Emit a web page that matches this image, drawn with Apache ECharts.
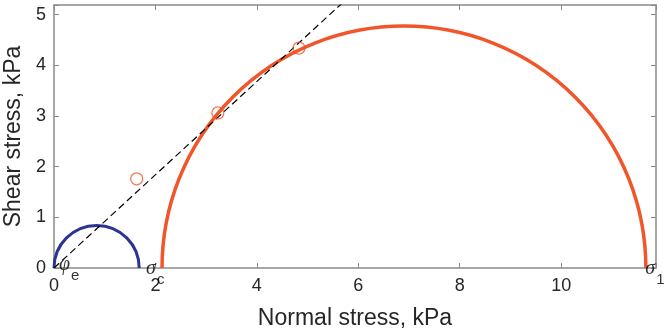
<!DOCTYPE html>
<html>
<head>
<meta charset="utf-8">
<script src="https://cdn.jsdelivr.net/npm/echarts@6/dist/echarts.min.js"></script>
<style>
html, body { margin: 0; padding: 0; background: #fff; }
#main { width: 666px; height: 330px; }
</style>
</head>
<body>
<div id="main"></div>
<script>
// axis ranges and tick labels
var xRange = [0, 11.87];
var yRange = [0, 5.19];
var xTicks = [0, 2, 4, 6, 8, 10];
var yTicks = [0, 1, 2, 3, 4, 5];

// Mohr circles: [centre, radius]
var circleSmall = [0.84, 0.84];
var circleLarge = [6.9, 4.77];

// measured points and failure envelope (through origin)
var testPoints = [[1.63, 1.76], [3.23, 3.06], [4.83, 4.34]];
var envelope = [[0, 0], [6, 5.52]];

// annotation anchors: [x, y, symbol, subscript]
var annotations = [
    [0, 0, 'φ', 'e'],
    [2.13, 0, 'σ', 'c'],
    [11.66, 0, 'σ', '1']
];
var annotationOffsets = [[5, -13], [-16, -9], [0, -9]];

var myChart = echarts.init(document.getElementById('main'));

var axisGrey = '#8a8a8a';
var textDark = '#262626';
var sans = 'Liberation Sans, Arial, sans-serif';

function makeAxis(pos, range, ticks, showLabel, name) {
    var isX = pos === 'bottom' || pos === 'top';
    var ax = {
        type: 'value',
        position: pos,
        min: range[0],
        max: range[1],
        interval: isX ? 2 : 1,
        splitLine: { show: false },
        axisLine: { show: true, onZero: false, lineStyle: { color: axisGrey, width: 1.5 } },
        axisTick: { show: true, inside: true, length: 5, lineStyle: { color: axisGrey, width: 1 } },
        axisLabel: {
            show: showLabel,
            color: textDark,
            fontSize: 18,
            fontFamily: sans,
            margin: isX ? 9 : 8,
            formatter: function (v) { return ticks.indexOf(v) >= 0 ? String(v) : ''; }
        }
    };
    if (name) {
        ax.name = name;
        ax.nameLocation = 'middle';
        ax.nameGap = isX ? 39 : 21;
        ax.nameTextStyle = { color: textDark, fontSize: 23, fontFamily: sans };
    }
    return ax;
}

function circleSeries(c, color, width) {
    return {
        type: 'custom',
        data: [c],
        z: 3,
        renderItem: function (params, api) {
            var ctr = api.coord([api.value(0), 0]);
            var r = api.size([api.value(1), 0])[0];
            return {
                type: 'arc',
                shape: { cx: ctr[0], cy: ctr[1], r: r, startAngle: Math.PI, endAngle: 2 * Math.PI, clockwise: true },
                style: { fill: 'none', stroke: color, lineWidth: width }
            };
        }
    };
}

var option = {
    animation: false,
    backgroundColor: '#fff',
    grid: { left: 54, right: 10, top: 5, bottom: 62, outerBoundsMode: 'none', containLabel: false },
    xAxis: [
        makeAxis('bottom', xRange, xTicks, true, 'Normal stress, kPa'),
        makeAxis('top', xRange, xTicks, false)
    ],
    yAxis: [
        makeAxis('left', yRange, yTicks, true, 'Shear stress, kPa'),
        makeAxis('right', yRange, yTicks, false)
    ],
    series: [
        circleSeries(circleSmall, '#2B3494', 3),
        circleSeries(circleLarge, '#F0562A', 3.5),
        {
            type: 'line',
            data: envelope,
            symbol: 'none',
            z: 4,
            lineStyle: { color: '#000', width: 1.2, type: [7, 4] }
        },
        {
            type: 'scatter',
            data: testPoints,
            symbol: 'circle',
            symbolSize: 12,
            z: 5,
            itemStyle: { color: 'rgba(0,0,0,0)', borderColor: '#F0562A', borderWidth: 1.3 }
        },
        {
            type: 'scatter',
            symbolSize: 0,
            z: 6,
            data: annotations.map(function (a, i) {
                return {
                    value: [a[0], a[1]],
                    label: { offset: annotationOffsets[i] }
                };
            }),
            label: {
                show: true,
                position: [0, 0],
                align: 'left',
                verticalAlign: 'top',
                formatter: function (p) {
                    var a = annotations[p.dataIndex];
                    return '{g|' + a[2] + '}{b|' + a[3] + '}';
                },
                rich: {
                    g: { fontFamily: 'Liberation Serif, serif', fontStyle: 'italic', fontSize: 20, color: '#000', verticalAlign: 'top', lineHeight: 22 },
                    b: { fontFamily: sans, fontSize: 15, color: '#000', verticalAlign: 'top', lineHeight: 15, padding: [13, 0, 0, 1] }
                }
            }
        }
    ]
};

myChart.setOption(option);
</script>
</body>
</html>
